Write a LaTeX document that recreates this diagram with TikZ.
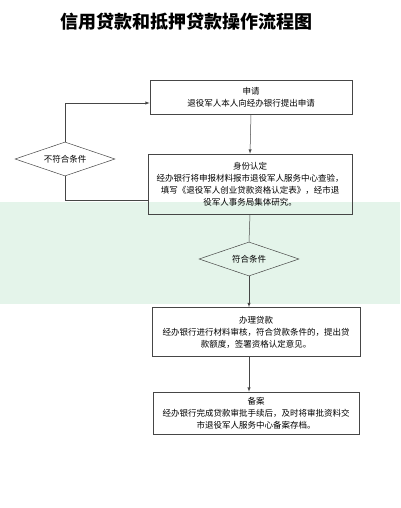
\documentclass[tikz,border=0pt]{standalone}
\usepackage{fontspec}
\newfontfamily\cjk{Noto Sans CJK SC}
\usetikzlibrary{calc,shapes.geometric}
\definecolor{bandgreen}{RGB}{228,244,234}
\definecolor{linegray}{RGB}{70,70,70}
\tikzset{
  stepbox/.style={draw=linegray, line width=0.6pt, align=center, inner sep=2pt,
    font=\cjk\fontsize{8.5}{12}\selectfont},
  choice/.style={draw=linegray, line width=0.5pt, diamond, aspect=3, inner sep=0pt,
    minimum width=100pt, minimum height=34pt, font=\cjk\fontsize{8.5}{10}\selectfont},
  link/.style={draw=linegray, line width=0.5pt},
}

\begin{document}
\begin{tikzpicture}[x=1pt, y=-1pt]
		%%%%% START %%%%%
		\useasboundingbox (0, 0) rectangle (400, 508);
		
		\fill[bandgreen] (0, 202) rectangle (400, 304);
		
		\node[font=\cjk\bfseries\fontsize{18}{20}\selectfont] (title) at (186, 22) {信用贷款和抵押贷款操作流程图};
		
		\node[stepbox, minimum width=202pt, minimum height=34pt] (apply) at (251, 97)
			{申请\\退役军人本人向经办银行提出申请};
		\node[stepbox, minimum width=204pt, minimum height=60pt] (check) at (250, 184)
			{身份认定\\经办银行将申报材料报市退役军人服务中心查验，\\填写《退役军人创业贷款资格认定表》，经市退\\役军人事务局集体研究。};
		\node[choice] (pass) at (249, 259) {符合条件};
		\node[choice] (reject) at (65, 159) {不符合条件};
		\node[stepbox, minimum width=208pt, minimum height=49pt] (handle) at (256, 332)
			{办理贷款\\经办银行进行材料审核，符合贷款条件的，提出贷\\款额度，签署资格认定意见。};
		\node[stepbox, minimum width=206pt, minimum height=42pt] (record) at (256, 413)
			{备案\\经办银行完成贷款审批手续后，及时将审批资料交\\市退役军人服务中心备案存档。};
		
		\coordinate (applyin) at ($(apply.west)+(0, 6)$);
		
		\draw[link, -latex] (apply.south) -- (check.north);
		\draw[link] (check.south) -- (pass.north);
		\draw[link, -latex] (pass.south) -- (handle.north -| pass.south);
		\draw[link, -latex] (handle.south -| pass.south) -- (record.north -| pass.south);
		\draw[link] (check.south west) ++(0, -14) -| (reject.south);
		\draw[link, -latex] (reject.north) |- (applyin);
		
		%%%%% END %%%%%
	\end{tikzpicture}
\end{document}
